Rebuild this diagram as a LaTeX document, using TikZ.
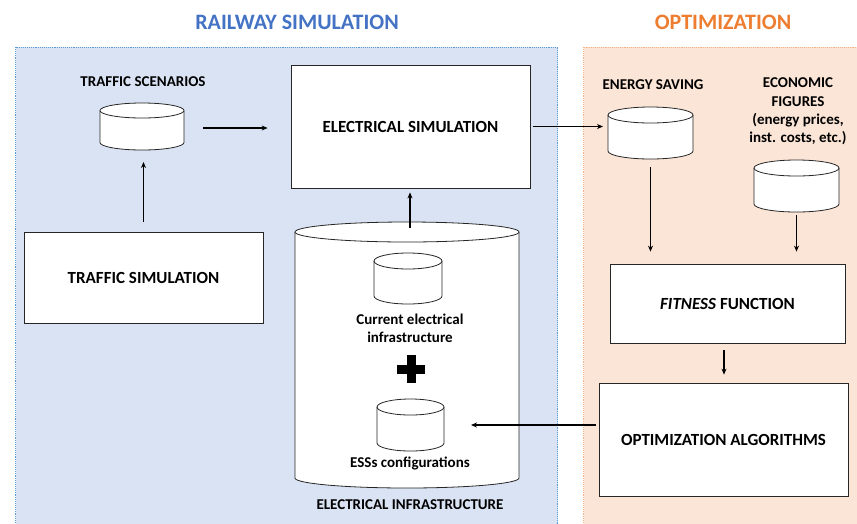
\documentclass[tikz,border=0pt]{standalone}
\usepackage{fontspec}
\setmainfont{Carlito}
\usetikzlibrary{arrows.meta}
\definecolor{bluefill}{HTML}{DAE3F3}
\definecolor{blueline}{HTML}{5B9BD5}
\definecolor{orangefill}{HTML}{FBE5D6}
\definecolor{orangeline}{HTML}{F4B183}
\definecolor{titleblue}{HTML}{4472C4}
\definecolor{titleorange}{HTML}{ED7D31}
\newcommand\drawcyl[3]{%
  \draw[cylline] ([yshift=-#3]#1.north west) -- ([yshift=#3]#1.south west)
    arc[start angle=180,end angle=360,x radius=#2,y radius=#3]
    -- ([yshift=-#3]#1.north east)
    arc[start angle=0,end angle=180,x radius=#2,y radius=#3] -- cycle;
  \draw[cylline] ([yshift=-#3]#1.north west)
    arc[start angle=180,end angle=360,x radius=#2,y radius=#3];
}
\begin{document}
\begin{tikzpicture}[x=1pt,y=-1pt,
  title/.style={font=\fontsize{22}{26}\selectfont\bfseries},
  box/.style={draw=black!85, line width=0.8pt, fill=white, inner sep=0pt,
    font=\fontsize{17}{20}\selectfont\bfseries},
  lbl/.style={font=\fontsize{15}{17.5}\selectfont\bfseries, align=center, inner sep=0pt},
  cylbox/.style={inner sep=0pt, outer sep=0pt},
  cylline/.style={draw=black!85, line width=0.8pt, fill=white},
  arr/.style={-{Stealth[length=6pt,width=5pt]}, line width=1.2pt},
  panel/.style={densely dotted, line width=0.9pt}]
\useasboundingbox (0,0) rectangle (857,523);
\begin{scope}
\clip (0,0) rectangle (857,523);
\draw[panel, draw=blueline, fill=bluefill] (15.5,47) rectangle (557.5,540);
\draw[panel, draw=orangeline, fill=orangefill] (583.5,47) rectangle (870,540);
\end{scope}
\node[title, text=titleblue] (t1) at (297,22) {RAILWAY SIMULATION};
\node[title, text=titleorange] (t2) at (723,22) {OPTIMIZATION};
% boxes
\node[box, minimum width=239pt, minimum height=123pt] (esim) at (410.5,126.5) {ELECTRICAL SIMULATION};
\node[box, minimum width=239pt, minimum height=91pt] (tsim) at (143.5,277.5) {TRAFFIC SIMULATION};
\node[box, minimum width=235pt, minimum height=79pt] (fit) at (727.5,303.5) {\textit{FITNESS} FUNCTION};
\node[box, minimum width=249pt, minimum height=113pt] (opt) at (723.5,439.5) {OPTIMIZATION ALGORITHMS};
% cylinders
\node[cylbox, minimum width=84pt, minimum height=47pt] (tsc) at (142,126.5) {};
\drawcyl{tsc}{42pt}{7.5pt}
\node[cylbox, minimum width=85pt, minimum height=52pt] (esav) at (650.5,133) {};
\drawcyl{esav}{42.5pt}{8pt}
\node[cylbox, minimum width=85pt, minimum height=52pt] (econ) at (796.5,186) {};
\drawcyl{econ}{42.5pt}{8pt}
\node[cylbox, minimum width=224pt, minimum height=266pt] (infra) at (407,355) {};
\drawcyl{infra}{112pt}{10pt}
\node[cylbox, minimum width=68pt, minimum height=51pt] (cur) at (408,278.5) {};
\drawcyl{cur}{34pt}{8pt}
\node[cylbox, minimum width=67pt, minimum height=52pt] (ess) at (410.5,425) {};
\drawcyl{ess}{33.5pt}{8pt}
% plus sign
\fill (397,364.5) rectangle (425,373.5);
\fill (406.5,355) rectangle (415.5,383);
% labels
\node[lbl] (ltsc) at (143,82) {TRAFFIC SCENARIOS};
\node[lbl] (lesav) at (653,85) {ENERGY SAVING};
\node[lbl, font=\fontsize{15}{18.3}\selectfont\bfseries] (lecon) at (798,111.5) {ECONOMIC\\FIGURES\\(energy prices,\\inst. costs, etc.)};
\node[lbl] (lcur) at (410,328.5) {Current electrical\\infrastructure};
\node[lbl] (less) at (410,463) {ESSs configurations};
\node[lbl] (linfra) at (410,505) {ELECTRICAL INFRASTRUCTURE};
% arrows
\draw[arr, shorten <=19pt, shorten >=23pt] ([yshift=-1.5pt]tsc.east) -- ([yshift=-1.5pt]tsc.east -| esim.west);
\draw[arr, shorten <=10pt, shorten >=12pt] (tsim.north) -- (tsim.north |- tsc.south);
\draw[arr, shorten <=-6pt, shorten >=4pt] ([xshift=3pt]infra.north) -- ([xshift=3pt]infra.north |- esim.south);
\draw[arr, shorten <=3pt, shorten >=5pt] (esim.east) -- (esim.east -| esav.west);
\draw[arr, shorten <=8pt, shorten >=12pt] (esav.south) -- (esav.south |- fit.north);
\draw[arr, shorten <=3pt, shorten >=12pt] (econ.south) -- (econ.south |- fit.north);
\draw[arr, shorten <=7pt, shorten >=8pt] ([xshift=0.5pt]opt.north |- fit.south) -- ([xshift=0.5pt]opt.north);
\draw[arr, shorten <=3pt, shorten >=27pt] (opt.west |- ess.east) -- (ess.east);
\end{tikzpicture}
\end{document}
